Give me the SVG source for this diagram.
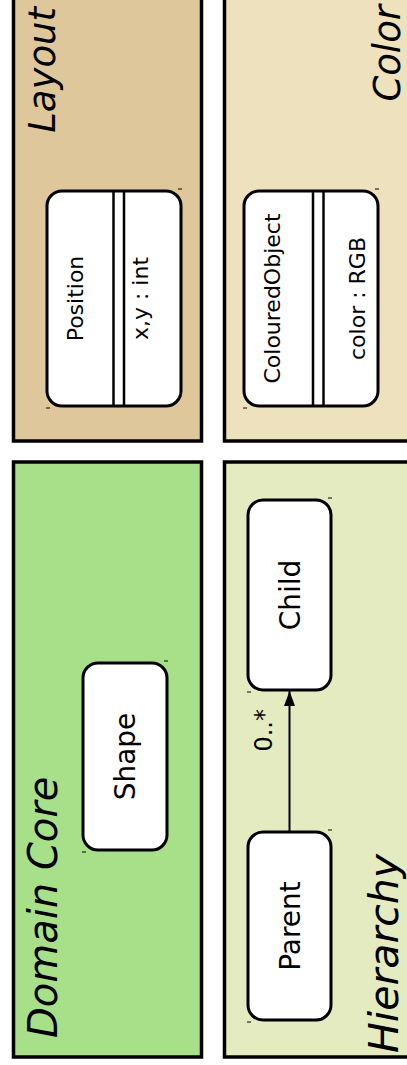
<svg xmlns="http://www.w3.org/2000/svg" width="407" height="1065" viewBox="0 0 407 1065">
<defs>
<style>
.panel{stroke:#000;stroke-width:3.5}
.node{fill:#fff;stroke:#000;stroke-width:3}
.div{stroke:#000;stroke-width:2.5}
.title{font-family:"DejaVu Sans",Verdana,sans-serif;font-style:italic;fill:#000}
.lbl{font-family:"DejaVu Sans",Verdana,sans-serif;font-size:28px;fill:#000;text-anchor:middle}
.cls{font-family:"DejaVu Sans",Verdana,sans-serif;font-size:22px;fill:#000;text-anchor:middle}
.tick{stroke:#000;stroke-width:1}
.edge{stroke:#000;stroke-width:2;fill:none}
</style>
<marker id="arr" viewBox="0 0 15 11" refX="15" refY="5.5" markerWidth="15" markerHeight="11" markerUnits="userSpaceOnUse" orient="auto">
<path d="M0,0 L15,5.5 L0,11 Z" fill="#000"/>
</marker>
</defs>
<rect width="407" height="1065" fill="#fff"/>
<g transform="translate(0,1065) rotate(-90)">
<g id="domain-core">
<rect class="panel" x="8" y="13.5" width="595" height="188" fill="#A8E08A"/>
<text class="title" x="27" y="57" font-size="40">Domain Core</text>
</g>
<g id="hierarchy">
<rect class="panel" x="8" y="224.5" width="595" height="200" fill="#E5EBC1"/>
<text class="title" x="12" y="398" font-size="41">Hierarchy</text>
</g>
<g id="layout">
<rect class="panel" x="624" y="13.5" width="460" height="188" fill="#DFC79C"/>
<text class="title" x="1058" y="55" text-anchor="end" font-size="37">Layout</text>
</g>
<g id="color">
<rect class="panel" x="624" y="224.5" width="460" height="200" fill="#EEE1BD"/>
<text class="title" x="1060" y="400" text-anchor="end" font-size="37">Color</text>
</g>
<g id="shape">
<rect class="node" x="215" y="83" width="187" height="84" rx="15"/>
<text class="lbl" x="308.5" y="135">Shape</text>
<line class="tick" x1="213" y1="82" x2="213" y2="86"/>
<line class="tick" x1="404" y1="164" x2="404" y2="168"/>
</g>
<g id="parent">
<rect class="node" x="45" y="248" width="188" height="83" rx="15"/>
<text class="lbl" x="139" y="300">Parent</text>
<line class="tick" x1="43" y1="247" x2="43" y2="251"/>
<line class="tick" x1="235" y1="328" x2="235" y2="332"/>
</g>
<g id="child">
<rect class="node" x="375" y="248" width="190" height="83" rx="15"/>
<text class="lbl" x="470" y="300">Child</text>
<line class="tick" x1="373" y1="247" x2="373" y2="251"/>
<line class="tick" x1="567" y1="328" x2="567" y2="332"/>
</g>
<g id="position">
<rect class="node" x="659" y="47" width="215" height="134" rx="15"/>
<line class="div" x1="659" y1="113.5" x2="874" y2="113.5"/>
<line class="div" x1="659" y1="124" x2="874" y2="124"/>
<text class="cls" x="766.5" y="83">Position</text>
<text class="cls" x="766.5" y="148">x,y : int</text>
<line class="tick" x1="657" y1="46" x2="657" y2="50"/>
<line class="tick" x1="876" y1="178" x2="876" y2="182"/>
</g>
<g id="coloured-object">
<rect class="node" x="659" y="244" width="215" height="134" rx="15"/>
<line class="div" x1="659" y1="313" x2="874" y2="313"/>
<line class="div" x1="659" y1="323.5" x2="874" y2="323.5"/>
<text class="cls" x="766.5" y="280">ColouredObject</text>
<text class="cls" x="766.5" y="365">color : RGB</text>
<line class="tick" x1="657" y1="243" x2="657" y2="247"/>
<line class="tick" x1="876" y1="375" x2="876" y2="379"/>
</g>
<g id="connectors">
<line class="edge" x1="233" y1="289.5" x2="374" y2="289.5" marker-end="url(#arr)"/>
<text x="356" y="272" text-anchor="end" font-family="DejaVu Sans, Verdana, sans-serif" font-size="24">0..*</text>
</g>
</g>
</svg>
